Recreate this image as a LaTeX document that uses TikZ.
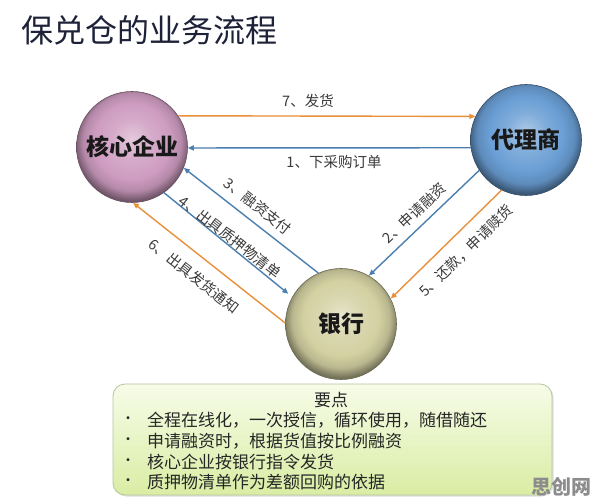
\documentclass[tikz,border=0pt]{standalone}
\usepackage{fontspec}
\setmainfont{Noto Sans CJK SC}
\usetikzlibrary{arrows.meta,shadows}
\definecolor{titlec}{HTML}{1E2238}
\definecolor{orangel}{HTML}{E8903A}
\definecolor{bluel}{HTML}{4A7FB0}
\definecolor{corec}{HTML}{CE9CC0}
\definecolor{agentc}{HTML}{6A9ED4}
\definecolor{bankc}{HTML}{D3D0A2}
\definecolor{boxtop}{HTML}{F7FCE8}
\definecolor{boxbot}{HTML}{D9EDA4}
\definecolor{boxedge}{HTML}{B5C49C}
\definecolor{labc}{HTML}{3A3A3A}
\colorlet{glc}{corec}
\pgfdeclareradialshading[glc]{glossy}{\pgfpoint{0bp}{4bp}}{%
  color(0bp)=(glc!55!white); color(9bp)=(glc!85!white); color(17bp)=(glc);
  color(22bp)=(glc!88!black); color(26bp)=(glc!55!black); color(50bp)=(glc!55!black)}
\tikzset{
  ballnode/.style={circle, minimum size=111pt, inner sep=0pt, draw=#1!50!black, line width=0.6pt,
    /utils/exec={\colorlet{glc}{#1}}, shading=glossy, font=\bfseries\fontsize{23}{23}\selectfont, text=black!90},
  orangearr/.style={draw=orangel, line width=1.4pt, -{Triangle[length=6pt,width=5pt]}},
  bluearr/.style={draw=bluel, line width=1.4pt, -{Triangle[length=6pt,width=5pt]}},
  lab/.style={font=\fontsize{14.5}{15}\selectfont, text=labc, inner sep=0pt},
  pointtxt/.style={font=\fontsize{17}{17}\selectfont, text=black!85, anchor=west, inner sep=0pt},
  bul/.style={font=\fontsize{14}{14}\selectfont, text=black!85, inner sep=0pt}
}
\begin{document}
\begin{tikzpicture}[x=1pt,y=-1pt]
\useasboundingbox[fill=white] (0,0) rectangle (596,502);
% title
\node[anchor=west, inner sep=0pt, text=titlec, font=\fontsize{32}{32}\selectfont] (title) at (21,30) {保兑仓的业务流程};
% balls
\node[ballnode=corec] (core) at (132,147) {核心企业};
\node[ballnode=agentc] (agent) at (526,140) {代理商};
\node[ballnode=bankc] (bank) at (341,324) {银行};
% connectors
\draw[orangearr] (core.34) -- (agent.155);
\draw[bluearr] (agent.188) -- (core.-1);
\draw[bluearr] (bank.114) -- (core.-22);
\draw[bluearr, shorten >=5pt] (core.-55) -- (bank.151);
\draw[orangearr] (bank.179) -- (core.-89);
\draw[bluearr] (agent.213) -- (bank.60);
\draw[orangearr] (agent.244) -- (bank.27);
% labels
\node[lab] (l7) at (308,101) {7、发货};
\node[lab] (l1) at (334,162) {1、下采购订单};
\node[lab, rotate=-38] (l3) at (258,206) {3、融资支付};
\node[lab, rotate=-38] (l4) at (230,237) {4、出具质押物清单};
\node[lab, rotate=-38] (l6) at (194,276) {6、出具发货通知};
\node[lab, rotate=43] (l2) at (414,213) {2、申请融资};
\node[lab, rotate=44] (l5) at (466,251) {5、还款，申请赎货};
% key points box
\shade[top color=boxtop, bottom color=boxbot, draw=boxedge, line width=0.8pt, rounded corners=12pt, drop shadow={opacity=0.25, shadow xshift=1.5pt, shadow yshift=-1.5pt}] (113,384) rectangle (552,495);
\node[inner sep=0pt, font=\fontsize{17}{17}\selectfont, text=black!85] (head) at (331,400) {要点};
\node[bul] (b1) at (128,420) {•};
\node[bul] (b2) at (128,441) {•};
\node[bul] (b3) at (128,462) {•};
\node[bul] (b4) at (128,482) {•};
\node[pointtxt] (t1) at (147,420) {全程在线化，一次授信，循环使用，随借随还};
\node[pointtxt] (t2) at (147,441) {申请融资时，根据货值按比例融资};
\node[pointtxt] (t3) at (147,462) {核心企业按银行指令发货};
\node[pointtxt] (t4) at (147,482) {质押物清单作为差额回购的依据};
% watermark
\node[inner sep=0pt, font=\bfseries\fontsize{20}{20}\selectfont, text=black!45] (wm) at (561,487) {思创网};
\end{tikzpicture}
\end{document}
